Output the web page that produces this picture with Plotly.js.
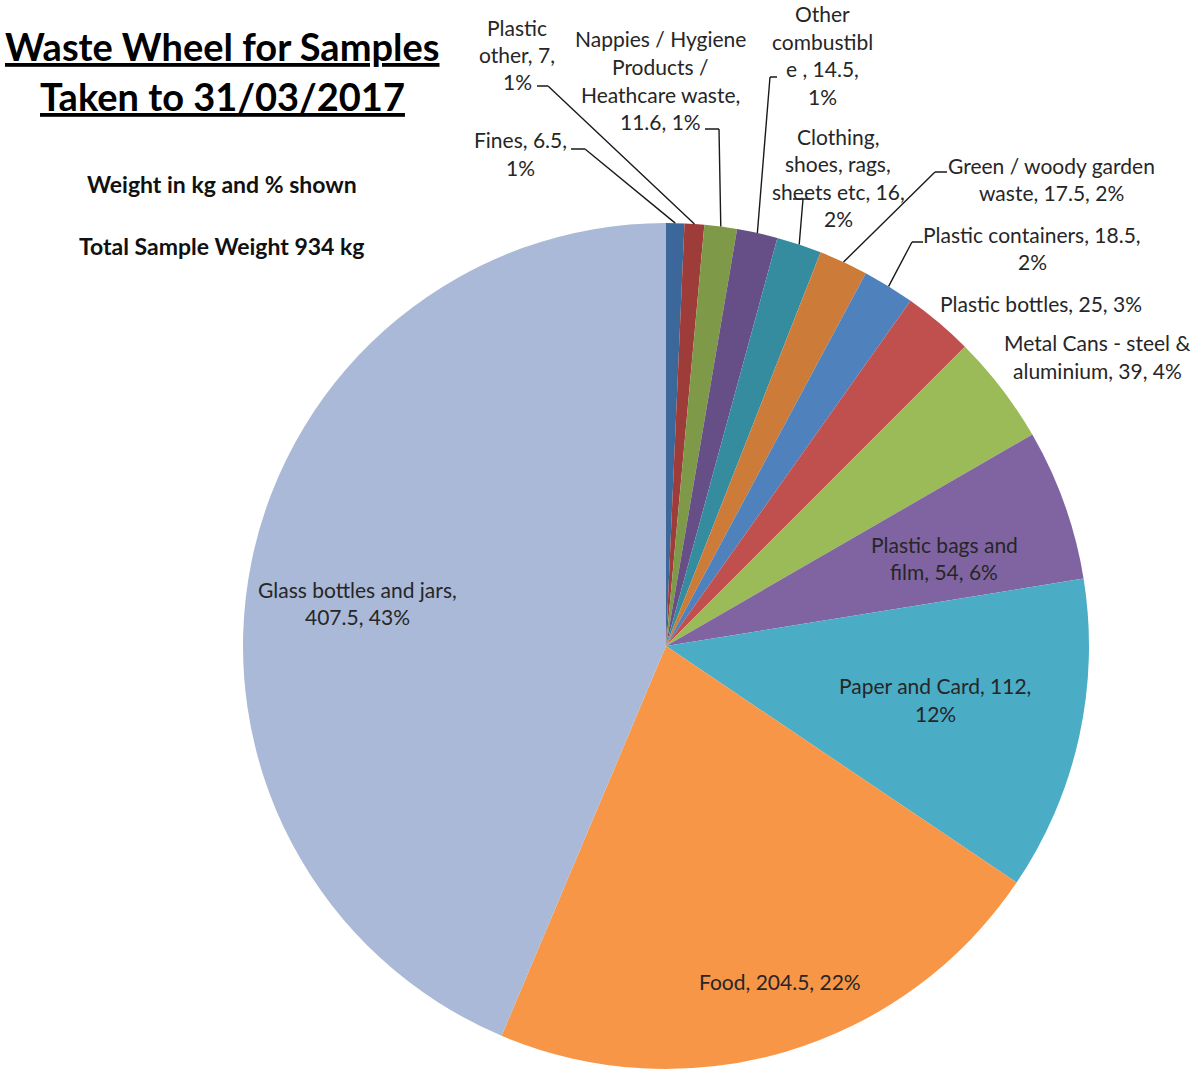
<!DOCTYPE html>
<html><head><meta charset="utf-8">
<script src="https://cdn.plot.ly/plotly-3.0.1.min.js"></script>
<style>html,body{margin:0;padding:0;background:#fff;overflow:hidden}</style>
</head><body>
<div id="chart" style="width:1192px;height:1071px"></div>
<script>
// ---------- data ----------
const categories = ["Fines","Plastic other","Nappies / Hygiene Products / Heathcare waste","Other combustible",
  "Clothing, shoes, rags, sheets etc","Green / woody garden waste","Plastic containers","Plastic bottles",
  "Metal Cans - steel & aluminium","Plastic bags and film","Paper and Card","Food","Glass bottles and jars"];
const weights = [6.5, 7, 11.6, 14.5, 16, 17.5, 18.5, 25, 39, 54, 112, 204.5, 407.5];
const percents = [1, 1, 1, 1, 2, 2, 2, 3, 4, 6, 12, 22, 43];
const labelLines = [
  ["Fines, 6.5,","1%"],
  ["Plastic","other, 7,","1%"],
  ["Nappies / Hygiene","Products /","Heathcare waste,","11.6, 1%"],
  ["Other","combustibl","e , 14.5,","1%"],
  ["Clothing,","shoes, rags,","sheets etc, 16,","2%"],
  ["Green / woody garden","waste, 17.5, 2%"],
  ["Plastic containers, 18.5,","2%"],
  ["Plastic bottles, 25, 3%"],
  ["Metal Cans - steel &","aluminium, 39, 4%"],
  ["Plastic bags and","film, 54, 6%"],
  ["Paper and Card, 112,","12%"],
  ["Food, 204.5, 22%"],
  ["Glass bottles and jars,","407.5, 43%"]
];
const sliceColors = ["#3B679B","#9D3C39","#7E9A48","#664F86","#368C9F","#CC7B38","#4F81BD",
  "#C0504D","#9BBB59","#8064A2","#4BACC6","#F79646","#AAB9D7"];
const titleLines = ["Waste Wheel for Samples","Taken to 31/03/2017"];
const subtitleLines = ["Weight in kg and % shown","Total Sample Weight 934 kg"];

// ---------- layout helpers ----------
const W = 1192, H = 1071;
const CX = 666, CY = 646, R = 423;
const fx = x => x / W, fy = y => 1 - y / H;
const FONT = "Lato, 'Open Sans', sans-serif";

// label placement: [centre x, first-line y] in page px
const labelPos = [[520,140],[517,27],[660,39],[822,14],[838,136],[1051,165],[1032,234],
  [1041,303],[1097,343],[944,544],[935,686],[780,981],[357,589]];
const LINE_H = 27.5;
// leader hooks: [hook start x, hook end x, hook y, line origin x] (null = no leader)
const hooks = [[571,585,149,585],[537,548,86,548],[705,719,129,719],[770,777,77,770],
  [793,810,199,803],[947,935,172,935],[923,912,242,912],null,null,null,null,null,null];

const total = weights.reduce((a,b)=>a+b,0);

const annotations = [];
labelLines.forEach((lines,i)=>{
  lines.forEach((t,k)=>{
    annotations.push({xref:'paper',yref:'paper',x:fx(labelPos[i][0]),y:fy(labelPos[i][1]+k*LINE_H),
      text:t,showarrow:false,xanchor:'center',yanchor:'middle',
      font:{family:FONT,size:21,color:'#262626'}});
  });
});
titleLines.forEach((t,k)=>{
  annotations.push({xref:'paper',yref:'paper',x:fx(222),y:fy(46+k*50),text:'<u>'+t+'</u>',
    showarrow:false,xanchor:'center',yanchor:'middle',font:{family:FONT,size:38,color:'#000',weight:700}});
});
subtitleLines.forEach((t,k)=>{
  annotations.push({xref:'paper',yref:'paper',x:fx(222),y:fy(184+k*62),text:'<b>'+t+'</b>',
    showarrow:false,xanchor:'center',yanchor:'middle',font:{family:FONT,size:23,color:'#111'}});
});

// leader lines: tip at the slice's mid-angle on the rim, computed from the data
const shapes = [];
let cum = 0;
weights.forEach((w,i)=>{
  const mid = (cum + w/2) / total * 2 * Math.PI;
  cum += w;
  const h = hooks[i];
  if (!h) return;
  const tx = CX + R*Math.sin(mid), ty = CY - R*Math.cos(mid);
  const path = `M ${fx(h[0])},${fy(h[2])} L ${fx(h[1])},${fy(h[2])} M ${fx(h[3])},${fy(h[2])} L ${fx(tx)},${fy(ty)}`;
  shapes.push({type:'path',xref:'paper',yref:'paper',path:path,line:{color:'#1a1a1a',width:1.4}});
});

const trace = {
  type:'pie', labels:categories, values:weights, sort:false, direction:'clockwise', rotation:0,
  marker:{colors:sliceColors,line:{width:0}}, textinfo:'none', hoverinfo:'label+value+percent',
  domain:{x:[fx(CX-R),fx(CX+R)], y:[fy(CY+R),fy(CY-R)]}, showlegend:false
};

Plotly.newPlot('chart',[trace],{
  width:W,height:H,margin:{l:0,r:0,t:0,b:0},paper_bgcolor:'#fff',plot_bgcolor:'#fff',
  showlegend:false,annotations:annotations,shapes:shapes,font:{family:FONT}
},{displayModeBar:false,staticPlot:true});
</script>
</body></html>
